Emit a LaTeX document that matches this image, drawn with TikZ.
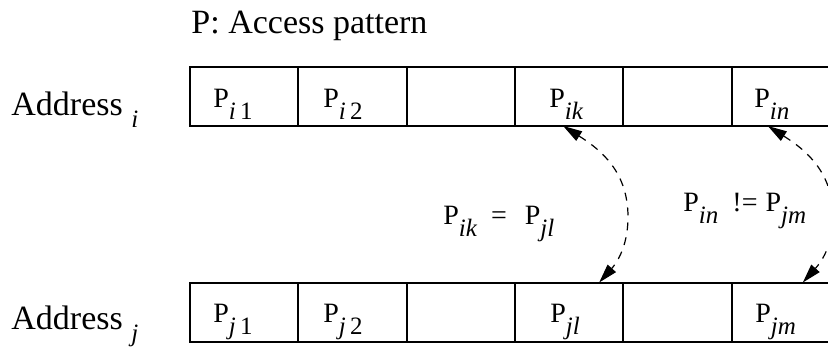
\documentclass[tikz,border=0pt]{standalone}
\usepackage{fontspec}
\setmainfont{Liberation Serif}
\usetikzlibrary{arrows.meta}
\newcommand{\sbx}[1]{\raisebox{-6pt}{\fontsize{12.5}{14}\selectfont\itshape #1}}
\tikzset{
  cellbox/.style={draw, line width=1pt, rectangle, anchor=north west, inner sep=0pt, outer sep=0pt,
                  minimum width=54.17pt, minimum height=29.5pt},
  celltext/.style={anchor=base west, inner sep=0pt, font=\fontsize{14}{16}\selectfont},
  bigtext/.style={anchor=base west, inner sep=0pt, font=\fontsize{17}{20}\selectfont},
  eqarc/.style={line width=0.6pt, dash pattern=on 4pt off 3.5pt,
                {Triangle[length=9.5pt,width=5.5pt]}-{Triangle[length=9.5pt,width=5.5pt]}}
}
\begin{document}
\begin{tikzpicture}[x=0.5pt,y=-0.5pt]
\path[use as bounding box] (0,0) rectangle (828,348);
\clip (0,0) rectangle (828,348);
% title and row labels
\node[bigtext] (title) at (191,33) {P: Access pattern};
\node[bigtext] (addri) at (11,115) {Address \sbx{i}};
\node[bigtext] (addrj) at (11,329) {Address \sbx{j}};
% cells
\foreach \k in {0,...,5}{
  \node[cellbox] (a\k) at (190+\k*108.33,67) {};
  \node[cellbox] (b\k) at (190+\k*108.33,282.5) {};
}
% cell texts
\node[celltext] (ti1) at (213,107) {P\sbx{i\,{\upshape 1}}};
\node[celltext] (ti2) at (323,107) {P\sbx{i\,{\upshape 2}}};
\node[celltext] (tik) at (549,107) {P\sbx{ik}};
\node[celltext] (tin) at (754,107) {P\sbx{in}};
\node[celltext] (tj1) at (213,322) {P\sbx{j\,{\upshape 1}}};
\node[celltext] (tj2) at (323,322) {P\sbx{j\,{\upshape 2}}};
\node[celltext] (tjl) at (550,322) {P\sbx{jl}};
\node[celltext] (tjm) at (755,322) {P\sbx{jm}};
% relation labels
\node[celltext] (eq) at (443,224) {P\sbx{ik}\hspace{7pt}=\hspace{9pt}P\sbx{jl}};
\node[celltext] (neq) at (683,211) {P\sbx{in}\hspace{7pt}!=\hspace{4pt}P\sbx{jm}};
% arcs
\coordinate (m1) at (628,217);
\coordinate (m2) at (833,217);
\draw[eqarc] ([xshift=-3pt]a3.south) .. controls +(38,24) and +(0,-45) .. (m1)
  .. controls +(0,30) and +(17,-19) .. ([xshift=15pt]b3.north);
\draw[eqarc] ([xshift=-9pt]a5.south) .. controls +(38,24) and +(0,-45) .. (m2)
  .. controls +(0,30) and +(17,-19) .. ([xshift=8.5pt]b5.north);
\end{tikzpicture}
\end{document}
